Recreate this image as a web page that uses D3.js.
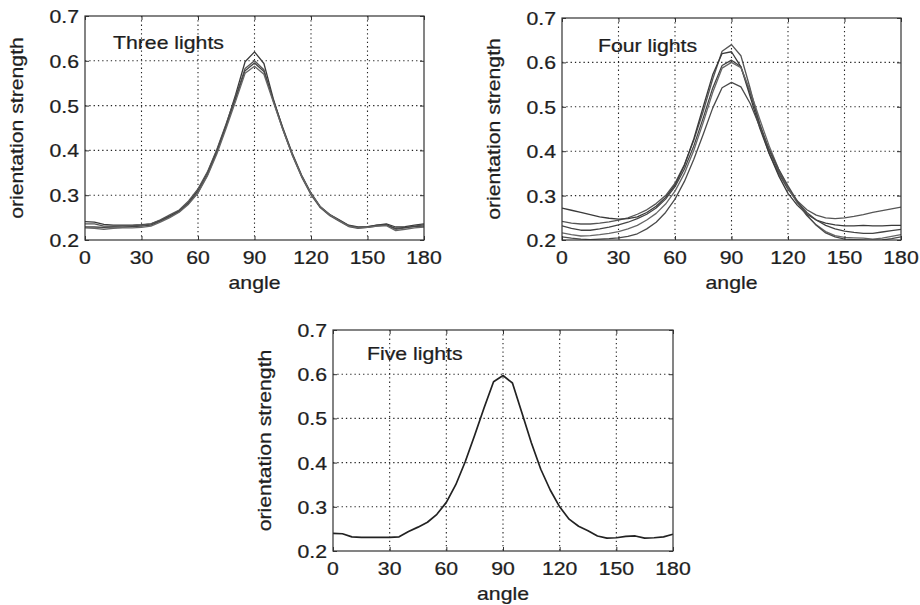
<!DOCTYPE html>
<html>
<head>
<meta charset="utf-8">
<script src="https://cdn.jsdelivr.net/npm/d3@7"></script>
<style>
  html, body { margin: 0; padding: 0; background: #fff; }
  svg { display: block; }
  text { font-family: "Liberation Sans", Arial, Helvetica, sans-serif; fill: #1e1e1e; stroke: #1e1e1e; stroke-width: 0.25px; }
</style>
</head>
<body>
<svg id="chart" width="920" height="605"></svg>
<script>
// Sampled angles (degrees)
const angles = [0,5,10,15,20,25,30,35,40,45,50,55,60,65,70,75,80,85,90,
                95,100,105,110,115,120,125,130,135,140,145,150,155,160,165,170,175,180];

// Three lights
const threeA = [0.241,0.240,0.235,0.233,0.233,0.233,0.234,0.236,0.244,0.254,0.265,0.284,0.311,0.350,0.400,0.458,0.525,0.598,0.620,0.594,0.515,0.449,0.392,0.343,0.303,0.273,0.256,0.244,0.232,0.228,0.229,0.233,0.236,0.229,0.230,0.233,0.236];
const threeB = [0.236,0.236,0.231,0.231,0.232,0.232,0.233,0.236,0.245,0.256,0.267,0.287,0.314,0.352,0.402,0.460,0.520,0.583,0.600,0.580,0.510,0.447,0.390,0.341,0.301,0.272,0.254,0.242,0.230,0.226,0.228,0.231,0.233,0.224,0.227,0.231,0.234];
const threeC = [0.229,0.229,0.228,0.229,0.229,0.230,0.231,0.233,0.242,0.252,0.263,0.282,0.306,0.345,0.396,0.455,0.516,0.578,0.595,0.576,0.512,0.451,0.394,0.345,0.305,0.274,0.257,0.245,0.233,0.229,0.230,0.233,0.234,0.226,0.228,0.230,0.231];
const threeD = [0.227,0.226,0.224,0.226,0.227,0.227,0.228,0.231,0.240,0.250,0.262,0.280,0.305,0.343,0.392,0.450,0.510,0.572,0.588,0.570,0.508,0.447,0.391,0.343,0.304,0.274,0.256,0.243,0.231,0.227,0.228,0.231,0.232,0.221,0.224,0.227,0.229];

// Four lights
const fourA = [0.242,0.238,0.236,0.236,0.238,0.241,0.245,0.250,0.258,0.268,0.282,0.300,0.328,0.370,0.425,0.490,0.562,0.625,0.640,0.615,0.540,0.458,0.395,0.350,0.314,0.288,0.268,0.256,0.250,0.248,0.250,0.253,0.257,0.262,0.266,0.270,0.274];
const fourB = [0.272,0.267,0.262,0.257,0.252,0.249,0.247,0.248,0.252,0.262,0.276,0.296,0.324,0.368,0.428,0.500,0.572,0.620,0.624,0.590,0.522,0.452,0.395,0.345,0.305,0.278,0.258,0.245,0.238,0.234,0.232,0.232,0.233,0.232,0.232,0.233,0.233];
const fourC = [0.232,0.226,0.222,0.222,0.225,0.229,0.234,0.240,0.248,0.258,0.272,0.292,0.320,0.360,0.412,0.475,0.542,0.593,0.605,0.590,0.530,0.462,0.402,0.355,0.316,0.285,0.262,0.245,0.233,0.225,0.220,0.217,0.215,0.215,0.218,0.221,0.224];
const fourD = [0.216,0.212,0.209,0.210,0.212,0.215,0.219,0.225,0.233,0.245,0.260,0.281,0.310,0.350,0.402,0.465,0.532,0.587,0.600,0.588,0.535,0.472,0.412,0.360,0.318,0.283,0.255,0.234,0.219,0.210,0.206,0.205,0.204,0.202,0.204,0.208,0.212];
const fourE = [0.207,0.204,0.202,0.201,0.202,0.203,0.205,0.208,0.214,0.225,0.240,0.262,0.292,0.332,0.382,0.438,0.497,0.543,0.555,0.545,0.507,0.455,0.405,0.360,0.322,0.287,0.256,0.233,0.216,0.207,0.202,0.201,0.200,0.199,0.200,0.203,0.207];

// Five lights
const fiveA = [0.240,0.239,0.232,0.231,0.231,0.231,0.231,0.232,0.244,0.254,0.265,0.283,0.310,0.350,0.402,0.462,0.524,0.583,0.597,0.580,0.513,0.445,0.385,0.338,0.300,0.272,0.256,0.246,0.234,0.229,0.230,0.233,0.234,0.229,0.230,0.232,0.238];

// Axes
const xTicks = [0,30,60,90,120,150,180];
const xTickLabels = ["0","30","60","90","120","150","180"];
const yTicks = [0.2,0.3,0.4,0.5,0.6,0.7];
const yTickLabels = ["0.2","0.3","0.4","0.5","0.6","0.7"];
const xTitle = "angle";
const yTitle = "orientation strength";

// Panel titles and their curves
const panelTitles = ["Three lights", "Four lights", "Five lights"];
const panelSeries = [
  [threeA, threeB, threeC, threeD],
  [fourA, fourB, fourC, fourD, fourE],
  [fiveA]
];

// Panel placement (plot-area box in pixels) and line styling
const panelLayout = [
  { left: 85,  right: 424, top: 16, bottom: 240, titleDx: 28, titleDy: 33, colors: ["#3a3a3a","#555","#444","#666"], width: 1.3 },
  { left: 562, right: 901, top: 18, bottom: 240, titleDx: 36, titleDy: 34, colors: ["#555","#3a3a3a","#444","#666","#4a4a4a"], width: 1.3 },
  { left: 333, right: 673, top: 330, bottom: 551, titleDx: 34, titleDy: 30, colors: ["#222"], width: 1.7 }
];

const svg = d3.select("#chart");
const STRETCH = 1.18;   // horizontal glyph widening
const FS = 18;

function stretchedText(g, x, y, str, anchor, rotate) {
  return g.append("text")
    .attr("transform", `translate(${x},${y})` + (rotate ? " rotate(-90)" : "") + ` scale(${STRETCH},1)`)
    .attr("text-anchor", anchor)
    .style("font-size", FS + "px")
    .text(str);
}

panelSeries.forEach((seriesList, pi) => {
  const L = panelLayout[pi];
  const x = d3.scaleLinear().domain([0, 180]).range([L.left, L.right]);
  const y = d3.scaleLinear().domain([0.2, 0.7]).range([L.bottom, L.top]);
  const g = svg.append("g");

  // dotted grid
  const grid = g.append("g").attr("stroke", "#222").attr("stroke-width", 1.1).attr("stroke-dasharray", "1.3,3");
  xTicks.slice(1, -1).forEach(v => {
    grid.append("line").attr("x1", x(v)).attr("x2", x(v)).attr("y1", L.top).attr("y2", L.bottom);
  });
  yTicks.slice(1, -1).forEach(v => {
    grid.append("line").attr("x1", L.left).attr("x2", L.right).attr("y1", y(v)).attr("y2", y(v));
  });

  // curves
  const clipId = "clip" + pi;
  g.append("clipPath").attr("id", clipId).append("rect")
    .attr("x", L.left).attr("y", L.top).attr("width", L.right - L.left).attr("height", L.bottom - L.top);
  const line = d3.line().x((d, i) => x(angles[i])).y(d => y(d));
  const curves = g.append("g").attr("clip-path", `url(#${clipId})`);
  seriesList.forEach((s, si) => {
    curves.append("path").datum(s)
      .attr("d", line)
      .attr("fill", "none")
      .attr("stroke", L.colors[si % L.colors.length])
      .attr("stroke-width", L.width)
      .attr("stroke-linejoin", "round");
  });

  // inward tick marks on all four sides
  const tickStyle = sel => {
    sel.select(".domain").remove();
    sel.selectAll("line").attr("stroke", "#333");
  };
  g.append("g").attr("transform", `translate(0,${L.bottom})`)
    .call(d3.axisTop(x).tickValues(xTicks).tickSize(4).tickFormat("")).call(tickStyle);
  g.append("g").attr("transform", `translate(0,${L.top})`)
    .call(d3.axisBottom(x).tickValues(xTicks).tickSize(4).tickFormat("")).call(tickStyle);
  g.append("g").attr("transform", `translate(${L.left},0)`)
    .call(d3.axisRight(y).tickValues(yTicks).tickSize(4).tickFormat("")).call(tickStyle);
  g.append("g").attr("transform", `translate(${L.right},0)`)
    .call(d3.axisLeft(y).tickValues(yTicks).tickSize(4).tickFormat("")).call(tickStyle);

  // frame
  g.append("rect")
    .attr("x", L.left).attr("y", L.top)
    .attr("width", L.right - L.left).attr("height", L.bottom - L.top)
    .attr("fill", "none").attr("stroke", "#333").attr("stroke-width", 1.2);

  // tick labels
  xTicks.forEach((v, i) => stretchedText(g, x(v), L.bottom + 23.5, xTickLabels[i], "middle"));
  yTicks.forEach((v, i) => stretchedText(g, L.left - 6, y(v) + 7, yTickLabels[i], "end"));

  // axis titles
  stretchedText(g, (L.left + L.right) / 2, L.bottom + 49, xTitle, "middle");
  stretchedText(g, L.left - 62, (L.top + L.bottom) / 2, yTitle, "middle", true);

  // panel title
  stretchedText(g, L.left + L.titleDx, L.top + L.titleDy, panelTitles[pi], "start");
});
</script>
</body>
</html>
